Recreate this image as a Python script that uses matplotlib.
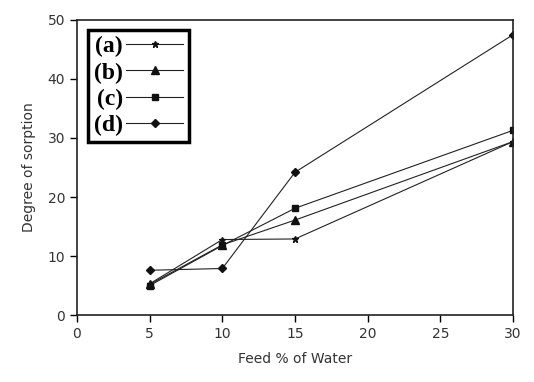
import matplotlib
matplotlib.use("Agg")
import matplotlib.pyplot as plt

feed = [5, 10, 15, 30]
sorp_a = [5.3, 12.8, 12.9, 29.4]
sorp_b = [5.2, 11.9, 16.1, 29.4]
sorp_c = [5.0, 11.8, 18.1, 31.3]
sorp_d = [7.6, 7.9, 24.2, 47.5]
labels = ["(a)", "(b)", "(c)", "(d)"]
markers = ["*", "^", "s", "D"]
msizes = [5, 6, 5, 4.5]

fig = plt.figure(figsize=(5.34, 3.82), dpi=100)
ax = fig.add_axes([0.144, 0.175, 0.817, 0.773])

for y, lab, m, ms in zip([sorp_a, sorp_b, sorp_c, sorp_d], labels, markers, msizes):
    ax.plot(feed, y, color="#222222", lw=0.8, marker=m, ms=ms,
            markerfacecolor="#111111", markeredgecolor="#111111", label=lab)

ax.set_xlim(0, 30)
ax.set_ylim(0, 50)
ax.set_xticks(range(0, 31, 5))
ax.set_yticks(range(0, 51, 10))
ax.tick_params(direction="out", length=5, width=1, labelsize=10,
               labelcolor="#333333", right=False, top=False)
for s in ax.spines.values():
    s.set_linewidth(1.2)
    s.set_color("#222222")

ax.set_xlabel("Feed % of Water", fontsize=10, color="#333333", labelpad=8)
ax.set_ylabel("Degree of sorption", fontsize=10, color="#333333", labelpad=8)

leg = ax.legend(loc="upper left", bbox_to_anchor=(0.025, 0.966), markerfirst=False,
                handlelength=2.4, handletextpad=0.15, labelspacing=0.2,
                borderpad=0.25, borderaxespad=0, fancybox=False, framealpha=1,
                prop={"family": "Liberation Serif", "weight": "bold", "size": 17})
leg.get_frame().set_edgecolor("black")
leg.get_frame().set_linewidth(2.5)

fig.savefig("out.png", dpi=100)
